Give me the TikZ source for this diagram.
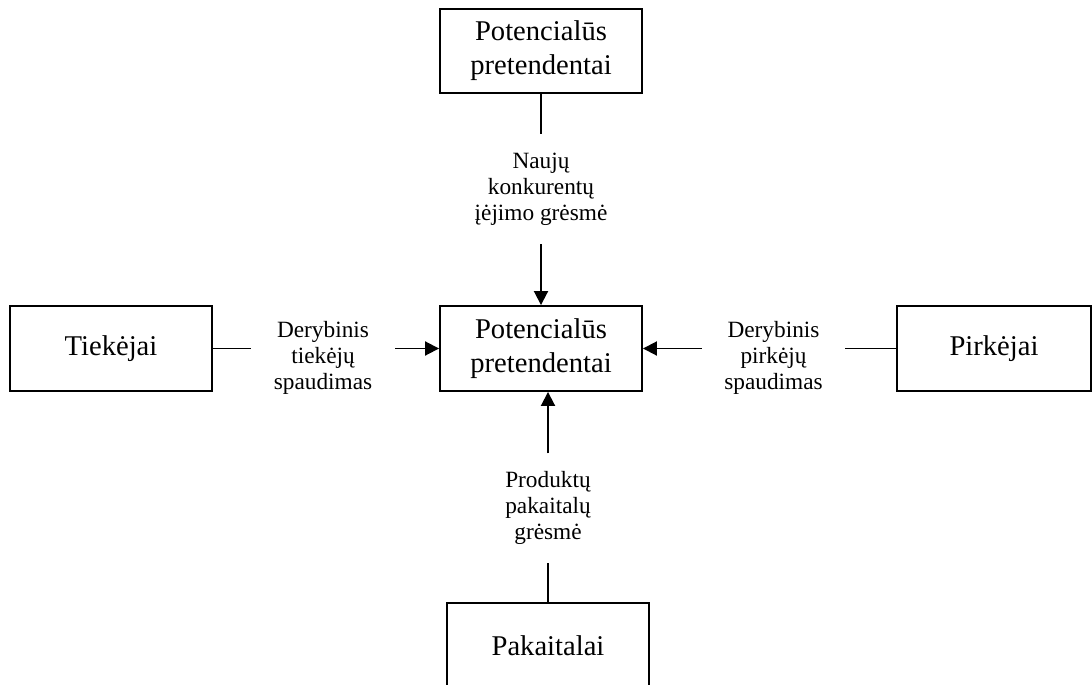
\documentclass[tikz,border=0pt]{standalone}
\usepackage{fontspec}
\setmainfont{Liberation Serif}
\usetikzlibrary{arrows.meta}
\begin{document}
\begin{tikzpicture}[x=1pt,y=-1pt,
  force/.style={draw,line width=1.9pt,minimum width=202pt,minimum height=85pt,
    inner sep=0pt,align=center,font=\fontsize{28.6}{34}\selectfont},
  caption/.style={inner sep=0pt,align=center,font=\fontsize{23.3}{26}\selectfont},
  link/.style={line width=1.9pt},
  push/.style={line width=1.9pt,-{Triangle[length=14pt,width=14pt]}}]
\useasboundingbox (0,0) rectangle (1092,685);

% the five forces
\node[force] (rivalry)  at (541,348.5) {Potencialūs\\pretendentai};
\node[force,minimum height=84pt] (entrants) at (541,51) {Potencialūs\\pretendentai};
\node[force] (suppliers) at (111,348.5) {Tiekėjai};
\node[force,minimum width=194pt] (buyers) at (994,348.5) {Pirkėjai};
\node[force] (substitutes) at (548,645.5) {Pakaitalai};

% captions sitting on the connectors
\node[caption,minimum height=110pt] (entrycap) at (541,189)
  {Naujų\\konkurentų\\įėjimo grėsmė};
\node[caption,minimum width=144pt] (suppcap) at (323,358)
  {Derybinis\\tiekėjų\\spaudimas};
\node[caption,minimum width=143pt] (buycap) at (773.5,358)
  {Derybinis\\pirkėjų\\spaudimas};
\node[caption,minimum height=109pt] (subcap) at (548,508)
  {Produktų\\pakaitalų\\grėsmė};

% connectors
\draw[link] (entrants.south) -- (entrycap.north);
\draw[push] (entrycap.south) -- (rivalry.north);

\draw[link] (suppliers.east) -- (suppliers.east -| suppcap.west);
\draw[push] (suppcap.east |- rivalry.west) -- (rivalry.west);

\draw[link] (buyers.west) -- (buyers.west -| buycap.east);
\draw[push] (buycap.west |- rivalry.east) -- (rivalry.east);

\draw[link] (substitutes.north) -- (subcap.south);
\draw[push] (subcap.north) -- (subcap.north |- rivalry.south);
\end{tikzpicture}
\end{document}
